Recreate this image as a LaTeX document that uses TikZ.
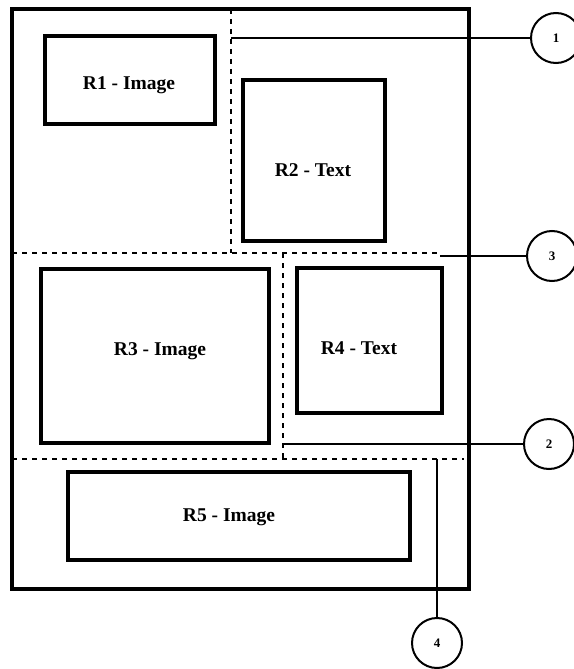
\documentclass[tikz,border=0pt]{standalone}
\usepackage{fontspec}
\setmainfont{Liberation Serif}
\begin{document}
\begin{tikzpicture}[x=1pt,y=-1pt,
  frame/.style={line width=3.5pt},
  box/.style={draw,line width=4pt,rectangle,inner sep=0pt,outer sep=0pt},
  lbl/.style={font=\bfseries\fontsize{19.5}{22}\selectfont,inner sep=0pt},
  sep/.style={line width=2pt,dash pattern=on 5pt off 5pt},
  lead/.style={line width=2pt},
  callout/.style={draw,circle,line width=2pt,minimum size=50pt,inner sep=0pt,
    font=\bfseries\fontsize{13}{15}\selectfont}]
\useasboundingbox (0,0) rectangle (573,669);
% outer frame
\draw[frame] (12,9) rectangle (469,589);
% separators
\coordinate (v1t) at (231,9);
\coordinate (v1b) at (231,253);
\coordinate (h1l) at (12,253);
\coordinate (h1r) at (440,253);
\coordinate (v2t) at (283,253);
\coordinate (v2b) at (283,459);
\coordinate (h2l) at (12,459);
\coordinate (h2r) at (464,459);
\draw[sep] (v1t) -- (v1b);
\draw[sep] (h1l) -- (h1r);
\draw[sep] (v2t) -- (v2b);
\draw[sep] (h2l) -- (h2r);
% boxes
\node[box,minimum width=170pt,minimum height=88pt] (r1) at (130,80) {};
\node[box,minimum width=142pt,minimum height=161pt] (r2) at (314,160.5) {};
\node[box,minimum width=228pt,minimum height=174pt] (r3) at (155,356) {};
\node[box,minimum width=145pt,minimum height=145pt] (r4) at (369.5,340.5) {};
\node[box,minimum width=342pt,minimum height=88pt] (r5) at (239,516) {};
% labels
\node[lbl] (t1) at (129,85) {R1 - Image};
\node[lbl] (t2) at (313,170) {R2 - Text};
\node[lbl] (t3) at (160,351) {R3 - Image};
\node[lbl] (t4) at (359,348) {R4 - Text};
\node[lbl] (t5) at (229,517) {R5 - Image};
% callouts
\node[callout] (c1) at (556,38) {1};
\node[callout] (c3) at (552,256) {3};
\node[callout] (c2) at (549,444) {2};
\node[callout] (c4) at (437,643) {4};
\coordinate (p1) at (231,38);
\coordinate (p3) at (440,256);
\coordinate (p2) at (283,444);
\coordinate (p4) at (437,459);
\draw[lead] (p1) -- (c1);
\draw[lead] (p3) -- (c3);
\draw[lead] (p2) -- (c2);
\draw[lead,line width=1.5pt] (p4) -- (c4);
\end{tikzpicture}
\end{document}
